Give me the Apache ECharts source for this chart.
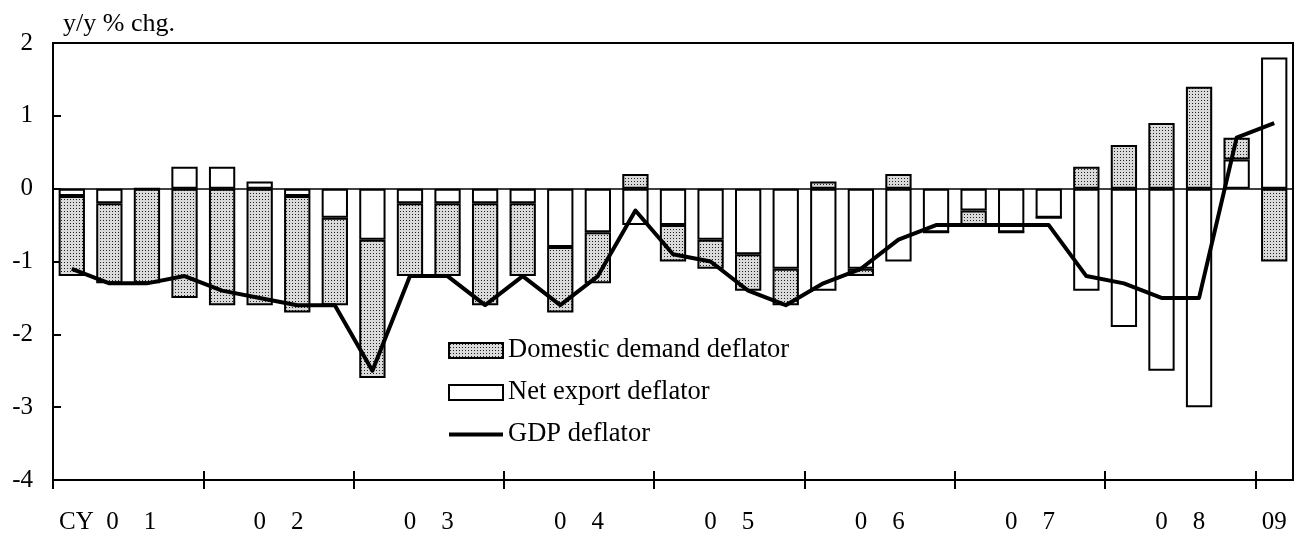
<!DOCTYPE html>
<html>
<head>
<meta charset="utf-8">
<script src="https://cdn.jsdelivr.net/npm/echarts@6/dist/echarts.min.js"></script>
<style>
  html, body { margin: 0; padding: 0; background: #fff; }
  #chart { width: 1297px; height: 536px; }
</style>
</head>
<body>
<div id="chart"></div>
<script>
  var quarters = [
    '01Q1', '01Q2', '01Q3', '01Q4', '02Q1', '02Q2', '02Q3', '02Q4',
    '03Q1', '03Q2', '03Q3', '03Q4', '04Q1', '04Q2', '04Q3', '04Q4',
    '05Q1', '05Q2', '05Q3', '05Q4', '06Q1', '06Q2', '06Q3', '06Q4',
    '07Q1', '07Q2', '07Q3', '07Q4', '08Q1', '08Q2', '08Q3', '08Q4', '09Q1'
  ];
  var domesticDemand = [
    -1.1, -1.1, -1.3, -1.5, -1.6, -1.6, -1.6, -1.2,
    -1.9, -1.0, -1.0, -1.4, -1.0, -0.9, -0.7, 0.2,
    -0.5, -0.4, -0.5, -0.5, 0.1, -0.1, 0.2, 0,
    -0.2, 0, 0, 0.3, 0.6, 0.9, 1.4, 0.3, -1.0
  ];
  var netExport = [
    -0.1, -0.2, 0, 0.3, 0.3, 0.1, -0.1, -0.4,
    -0.7, -0.2, -0.2, -0.2, -0.2, -0.8, -0.6, -0.5,
    -0.5, -0.7, -0.9, -1.1, -1.4, -1.1, -1.0, -0.6,
    -0.3, -0.6, -0.4, -1.4, -1.9, -2.5, -3.0, 0.4, 1.8
  ];
  var gdpDeflator = [
    -1.1, -1.3, -1.3, -1.2, -1.4, -1.5, -1.6, -1.6,
    -2.5, -1.2, -1.2, -1.6, -1.2, -1.6, -1.2, -0.3,
    -0.9, -1.0, -1.4, -1.6, -1.3, -1.1, -0.7, -0.5,
    -0.5, -0.5, -0.5, -1.2, -1.3, -1.5, -1.5, 0.7, 0.9
  ];
  var yearLabels = ['0    1', '0    2', '0    3', '0    4', '0    5', '0    6', '0    7', '0    8', '09'];
  var quartersPerYear = [4, 4, 4, 4, 4, 4, 4, 4, 1];

  var FONT = '"Liberation Serif", "Times New Roman", serif';

  // year boundaries (ticks) and year centres (labels), in quarter units
  var yearStarts = [];
  var yearCentres = [];
  var acc = 0;
  quartersPerYear.forEach(function (n) {
    yearStarts.push(acc);
    yearCentres.push(acc + n / 2);
    acc += n;
  });

  function stipple() {
    var c = document.createElement('canvas');
    c.width = 3; c.height = 3;
    var g = c.getContext('2d');
    g.fillStyle = '#dadada';
    g.fillRect(0, 0, 3, 3);
    g.fillStyle = '#222';
    g.fillRect(1, 1, 1, 1);
    return c;
  }

  var chart = echarts.init(document.getElementById('chart'), null, { renderer: 'canvas' });

  var bottomAxisBase = {
    type: 'value',
    min: 0,
    max: quarters.length,
    position: 'bottom',
    splitLine: { show: false }
  };

  chart.setOption({
    animation: false,
    backgroundColor: '#fff',
    textStyle: { fontFamily: FONT, color: '#000' },
    title: {
      text: 'y/y % chg.',
      left: 58,
      top: 6,
      textStyle: { fontFamily: FONT, fontSize: 26, fontWeight: 'normal', color: '#000' }
    },
    grid: {
      left: 53, right: 4, top: 43, bottom: 56,
      show: true,
      borderColor: '#000',
      borderWidth: 2,
      backgroundColor: 'transparent'
    },
    legend: {
      orient: 'vertical',
      left: 443,
      top: 332,
      itemWidth: 54,
      itemHeight: 15,
      itemGap: 15,
      symbolKeepAspect: true,
      textStyle: { fontFamily: FONT, fontSize: 26.5, color: '#000' },
      data: [
        { name: 'Domestic demand deflator', icon: 'rect' },
        { name: 'Net export deflator', icon: 'rect' },
        { name: 'GDP deflator', icon: 'path://M0,0H54V4H0Z' }
      ]
    },
    xAxis: [
      {
        // data axis, its line drawn at zero
        type: 'category',
        data: quarters,
        boundaryGap: true,
        axisLine: { onZero: true, lineStyle: { color: '#000', width: 1.5 } },
        axisTick: { show: false },
        axisLabel: { show: false },
        splitLine: { show: false }
      },
      Object.assign({}, bottomAxisBase, {
        axisLine: { show: true, onZero: false, lineStyle: { color: '#000', width: 2 } },
        axisTick: { show: true, inside: false, length: 9, customValues: yearStarts, lineStyle: { color: '#000', width: 2 } },
        axisLabel: {
          show: true,
          margin: 30,
          customValues: yearCentres,
          fontFamily: FONT,
          fontSize: 25,
          color: '#000',
          formatter: function (value) {
            var i = yearCentres.indexOf(value);
            if (i < 0) return '';
            return i === 0 ? 'CY  ' + yearLabels[0] + '{g|}' : yearLabels[i];
          },
          rich: { g: { width: 41 } }
        }
      }),
      Object.assign({}, bottomAxisBase, {
        axisLine: { show: false, onZero: false },
        axisTick: { show: true, inside: true, length: 9, customValues: yearStarts, lineStyle: { color: '#000', width: 2 } },
        axisLabel: { show: false }
      })
    ],
    yAxis: {
      type: 'value',
      min: -4,
      max: 2,
      interval: 1,
      axisLine: { show: true, onZero: false, lineStyle: { color: '#000', width: 2 } },
      axisTick: { show: true, inside: true, length: 8, lineStyle: { color: '#000', width: 2 } },
      axisLabel: { margin: 20, fontFamily: FONT, fontSize: 25, color: '#000' },
      splitLine: { show: false }
    },
    series: [
      {
        name: 'Net export deflator',
        type: 'bar',
        stack: 'total',
        barCategoryGap: '30%',
        itemStyle: { color: '#fff', borderColor: '#000', borderWidth: 2 },
        data: netExport
      },
      {
        name: 'Domestic demand deflator',
        type: 'bar',
        stack: 'total',
        barCategoryGap: '30%',
        itemStyle: { color: { image: stipple(), repeat: 'repeat' }, borderColor: '#000', borderWidth: 2 },
        data: domesticDemand
      },
      {
        name: 'GDP deflator',
        type: 'line',
        symbol: 'none',
        z: 5,
        lineStyle: { color: '#000', width: 4, join: 'round' },
        itemStyle: { color: '#000' },
        data: gdpDeflator
      }
    ]
  });
</script>
</body>
</html>
